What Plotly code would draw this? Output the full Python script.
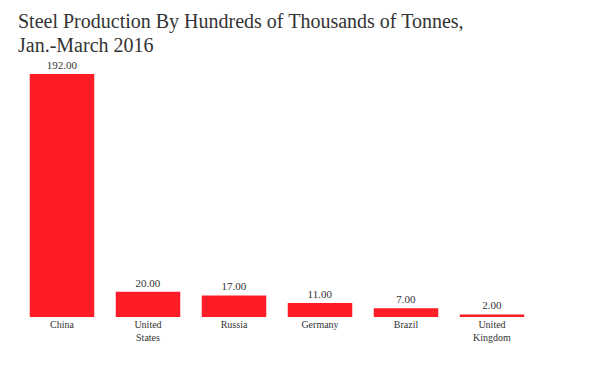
import plotly.graph_objects as go

countries = ["China", "United<br>States", "Russia", "Germany", "Brazil", "United<br>Kingdom"]
production = [192, 20, 17, 11, 7, 2]
title_lines = ["Steel Production By Hundreds of Thousands of Tonnes,", "Jan.-March 2016"]

fig = go.Figure(go.Bar(
    x=countries,
    y=production,
    marker=dict(color="#fe1d26", line=dict(width=0)),
    texttemplate="%{y:.2f}",
    textposition="outside",
    textfont=dict(family="Liberation Serif", size=11, color="#333333"),
    cliponaxis=False,
))

W, H = 592, 361
annots = []
for i, line in enumerate(title_lines):
    annots.append(dict(
        text=line, xref="paper", yref="paper",
        x=-3/516, xanchor="left",
        y=1 + (66 - 27 - 23*i) / (361 - 66 - 52), yanchor="bottom",
        showarrow=False,
        font=dict(family="Liberation Serif", size=20, color="#333333"),
    ))

fig.update_layout(
    width=W, height=H,
    margin=dict(l=11, r=65, t=66, b=52),
    paper_bgcolor="white", plot_bgcolor="white",
    bargap=0.25,
    showlegend=False,
    annotations=annots,
    xaxis=dict(showline=False, showgrid=False, ticks="", zeroline=False,
               tickfont=dict(family="Liberation Serif", size=10, color="#333333")),
    yaxis=dict(visible=False, range=[0, 192], showgrid=False, zeroline=False),
)

fig.write_html("out.html")
